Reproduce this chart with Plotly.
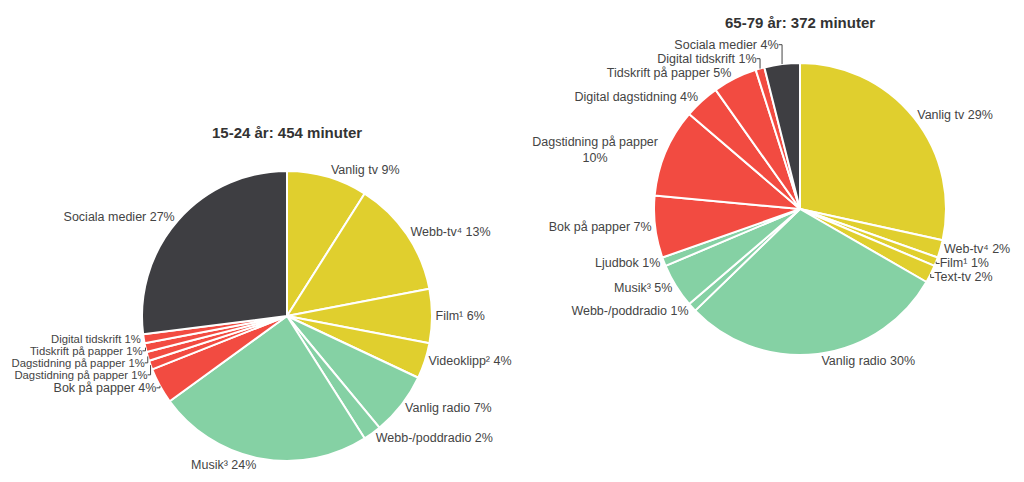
import plotly.graph_objects as go

# 15-24 år
young_labels = ["Vanlig tv", "Webb-tv⁴", "Film¹", "Videoklipp²", "Vanlig radio",
                "Webb-/poddradio", "Musik³", "Bok på papper", "Dagstidning på papper",
                "Dagstidning på papper", "Tidskrift på papper", "Digital tidskrift",
                "Sociala medier"]
young_values = [9, 13, 6, 4, 7, 2, 24, 4, 1, 1, 1, 1, 27]
young_groups = ["tv", "tv", "tv", "tv", "radio", "radio", "radio", "print", "print",
                "print", "print", "print", "social"]

# 65-79 år
old_labels = ["Vanlig tv", "Web-tv⁴", "Film¹", "Text-tv", "Vanlig radio",
              "Webb-/poddradio", "Musik³", "Ljudbok", "Bok på papper",
              "Dagstidning på papper<br>", "Digital dagstidning", "Tidskrift på papper",
              "Digital tidskrift", "Sociala medier"]
old_values = [29, 2, 1, 2, 30, 1, 5, 1, 7, 10, 4, 5, 1, 4]
old_groups = ["tv", "tv", "tv", "tv", "radio", "radio", "radio", "radio", "print",
              "print", "print", "print", "print", "social"]

titles = ["15-24 år: 454 minuter", "65-79 år: 372 minuter"]

colors = {"tv": "#E0CF2E", "radio": "#85D1A4", "print": "#F24B41", "social": "#3E3E42"}

W, H = 1024, 482
OFF = 8  # page offset of the plot div


def dom(cx, cy, r):
    cx -= OFF
    cy -= OFF
    return dict(x=[(cx - r) / W, (cx + r) / W], y=[1 - (cy + r) / H, 1 - (cy - r) / H])


def make_pie(labels, values, groups, domain, small_left=False):
    text = []
    sizes = []
    for l, v, g in zip(labels, values, groups):
        sep = "" if l.endswith("<br>") else " "
        text.append(f"{l}{sep}{v}%")
        # the crowded 1% print labels on the left of the first pie are set a bit smaller
        sizes.append(11.3 if (small_left and g == "print" and v == 1) else 12.5)
    return go.Pie(
        labels=[f"{i}" for i in range(len(labels))],
        values=values,
        text=text,
        textinfo="text",
        textposition="outside",
        sort=False,
        direction="clockwise",
        rotation=0,
        automargin=False,
        marker=dict(colors=[colors[g] for g in groups], line=dict(color="white", width=2)),
        textfont=dict(family="Liberation Sans, Arial, sans-serif", size=sizes, color="#444444"),
        domain=domain,
        showlegend=False,
        hoverinfo="skip",
    )


fig = go.Figure()
fig.add_trace(make_pie(young_labels, young_values, young_groups, dom(287, 316, 145), small_left=True))
fig.add_trace(make_pie(old_labels, old_values, old_groups, dom(800, 209, 146)))

tfont = dict(family="Liberation Sans, Arial, sans-serif", size=15, color="#333333")
fig.update_layout(
    width=W, height=H,
    margin=dict(l=0, r=0, t=0, b=0, autoexpand=False),
    paper_bgcolor="white",
    plot_bgcolor="white",
    annotations=[
        dict(text=f"<b>{titles[0]}</b>", x=(287 - OFF) / W, y=1 - (133 - OFF) / H,
             xref="paper", yref="paper", xanchor="center", yanchor="middle",
             showarrow=False, font=tfont),
        dict(text=f"<b>{titles[1]}</b>", x=(800 - OFF) / W, y=1 - (22 - OFF) / H,
             xref="paper", yref="paper", xanchor="center", yanchor="middle",
             showarrow=False, font=tfont),
    ],
)

fig.write_html("out.html")
